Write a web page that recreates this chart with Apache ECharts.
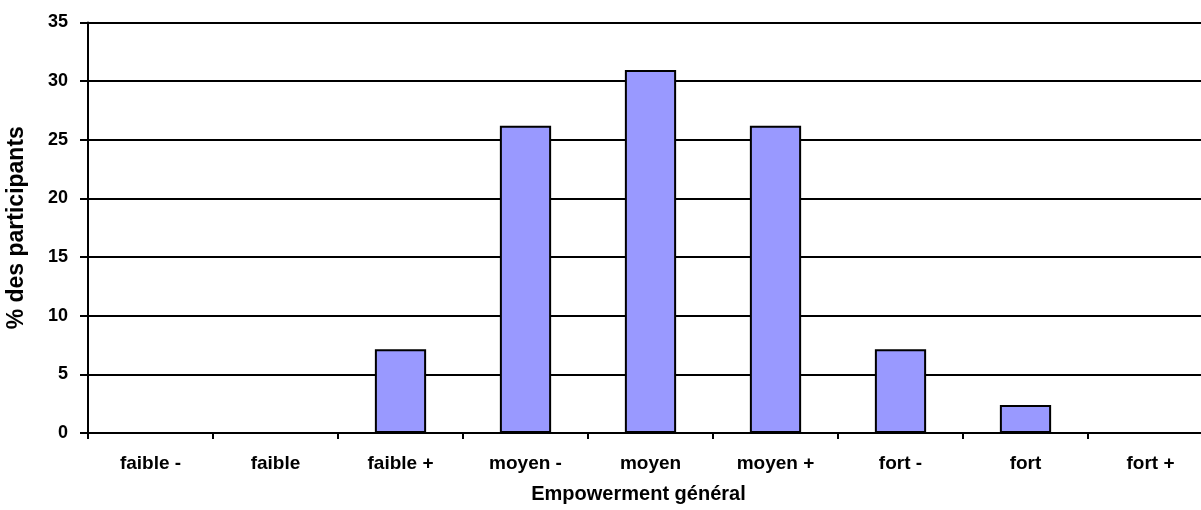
<!DOCTYPE html>
<html>
<head>
<meta charset="utf-8">
<script src="https://cdn.jsdelivr.net/npm/echarts@6/dist/echarts.min.js"></script>
<style>
  html, body { margin: 0; padding: 0; background: #fff; overflow: hidden; }
  #chart { width: 1201px; height: 510px; }
</style>
</head>
<body>
<div id="chart"></div>
<script>
// Niveaux d'empowerment général et % des participants (n = 42)
const categories = ['faible -', 'faible', 'faible +', 'moyen -', 'moyen', 'moyen +', 'fort -', 'fort', 'fort +'];
const percentages = [0, 0, 7.14, 26.19, 30.95, 26.19, 7.14, 2.38, 0];
const yTicks = { min: 0, max: 35, interval: 5 };

const font = '"Liberation Sans", Arial, sans-serif';
const chart = echarts.init(document.getElementById('chart'), null, { renderer: 'canvas' });

chart.setOption({
  animation: false,
  backgroundColor: '#ffffff',
  // the plot runs slightly past the right edge of the canvas
  grid: { left: 88, width: 1125, top: 22.5, bottom: 77, containLabel: false, outerBoundsMode: 'none' },
  xAxis: {
    type: 'category',
    data: categories,
    boundaryGap: true,
    name: 'Empowerment général',
    nameLocation: 'middle',
    nameGap: 51,
    nameTextStyle: { fontFamily: font, fontWeight: 'bold', fontSize: 20, color: '#000', padding: [0, 24, 0, 0] },
    axisLine: { lineStyle: { color: '#000', width: 2 } },
    axisTick: { show: true, length: 6, alignWithLabel: false, lineStyle: { color: '#000', width: 2 } },
    axisLabel: { fontFamily: font, fontWeight: 'bold', fontSize: 19, color: '#000', margin: 21, interval: 0 },
    splitLine: { show: false }
  },
  yAxis: {
    type: 'value',
    min: yTicks.min,
    max: yTicks.max,
    interval: yTicks.interval,
    name: '% des participants',
    nameLocation: 'middle',
    nameGap: 60,
    nameRotate: 90,
    nameTextStyle: { fontFamily: font, fontWeight: 900, fontSize: 23, color: '#000' },
    axisLine: { show: true, lineStyle: { color: '#000', width: 2 } },
    axisTick: { show: true, length: 8, lineStyle: { color: '#000', width: 2 } },
    axisLabel: { fontFamily: font, fontWeight: 'bold', fontSize: 18, color: '#000', margin: 20 },
    splitLine: { show: true, lineStyle: { color: '#000', width: 2 } }
  },
  series: [{
    type: 'bar',
    data: percentages,
    barWidth: '41%',
    itemStyle: { color: '#9999ff', borderColor: '#000', borderWidth: 2 }
  }]
});
</script>
</body>
</html>
